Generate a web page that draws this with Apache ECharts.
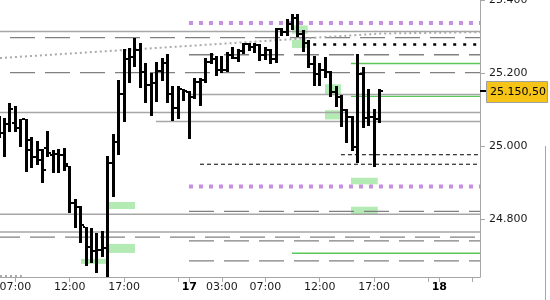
<!DOCTYPE html>
<html><head><meta charset="utf-8">
<script src="https://cdn.jsdelivr.net/npm/echarts@6/dist/echarts.min.js"></script>
<style>html,body{margin:0;padding:0;background:#fff}#c{width:550px;height:300px}</style>
</head><body><div id="c"></div>
<script>
// ---- data (30-minute OHLC bars; slot index = firstSlot + position) ----
const firstSlot = -3;
const opens = [25057,25036,25059,25063,25050,25073,25016,24970,24989,24995,24975,24978,24975,24945,24845,24832,24777,24724,24711,24715,24720,24954,25011,25142,25237,25244,25262,25202,25166,25173,25206,25227,25142,25105,25157,25148,25134,25175,25180,25230,25237,25207,25207,25248,25242,25260,25280,25271,25276,25248,25262,25239,25320,25311,25333,25352,25308,25282,25226,25196,25207,25202,25148,25133,25098,25080,24998,25196,25076,25080,25073];
const highs = [25081,25078,25119,25109,25075,25075,25025,25014,24993,25041,24989,24993,24994,24945,24854,24836,24777,24775,24761,24767,24972,25032,25182,25267,25269,25297,25283,25227,25200,25229,25242,25251,25164,25164,25157,25150,25187,25186,25242,25256,25246,25247,25258,25271,25267,25283,25283,25283,25279,25271,25267,25324,25324,25349,25361,25361,25319,25291,25246,25227,25243,25205,25164,25139,25101,25082,25253,25216,25157,25101,25157];
const lows = [25022,24970,25039,25039,24998,24929,24939,24948,24898,24970,24927,24927,24931,24816,24775,24734,24670,24679,24653,24697,24642,24861,24975,25066,25173,25216,25158,25118,25082,25121,25178,25117,25069,25073,25124,25019,25128,25109,25173,25224,25192,25201,25202,25237,25230,25251,25260,25256,25233,25235,25226,25227,25300,25302,25319,25298,25257,25214,25164,25164,25187,25134,25107,25052,25009,24987,24954,25049,25054,24943,25063];
const closes = [25036,25059,25100,25050,25073,24989,24970,24961,24934,24980,24978,24975,24950,24845,24832,24784,24724,24711,24715,24720,24954,25011,25142,25237,25244,25262,25202,25166,25173,25206,25227,25142,25105,25157,25151,25134,25175,25180,25230,25237,25207,25207,25248,25242,25260,25280,25271,25276,25248,25262,25239,25320,25311,25333,25352,25308,25282,25226,25196,25207,25202,25148,25133,25098,25080,24998,25196,25076,25080,25073,25150.5];
const lastPrice = 25150.5;

// x axis (slot units) and its labels
const xMin = -2.83, xMax = 85.49;
const tickSlots = [0,10,20,32,38,46,56,66,78];
const tickLabels = ['07:00','12:00','17:00','17','03:00','07:00','12:00','17:00','18'];
const dayLabels = ['17','18'];
const allTickSlots = [0,10,20,30,32,38,46,56,66,76,78,84];
// y axis
const yMin = 24641, yMax = 25400;
const yTicks = [24800,25000,25200,25400];

// horizontal levels
const solidLevels = [25314,25141,25092,25067,24813,24764];
const solidFrom   = [xMin,31.94,xMin,25.87,xMin,xMin];
const dashLevels  = [25297,25250,25201,24821,24750,24740,24685];
const dashFrom    = [xMin,31.94,xMin,31.94,xMin,31.94,31.94];
const dashPhase   = [25,0,25,0,5,0,0];
const purpleLevels = [25337,24889];
const purpleFrom   = [31.94,31.94];
const greenLevels  = [25226,25136,24706];
const greenFrom    = [61.75,61.75,50.9];
const blackDotLevels = [25278];
const blackDotFrom   = [54.8];
const blackDashLevels = [24976,24950];
const blackDashFrom   = [59.9,33.97];
const trendSlots  = [xMin,67.1,xMax];
const trendValues = [25241,25308,25312];
const lowDotSlots = [xMin,1.2];
const lowDotValues = [24644,24644];

// green zones
const zoneFrom = [17.22,17.22,12.07,50.9,50.9,56.97,56.97,61.75,61.75];
const zoneTo   = [22.01,22.01,16.67,53.79,53.6,59.91,59.91,66.67,66.67];
const zoneHigh = [24846.5,24731.7,24690.7,25330.4,25291.3,25169.1,25098.0,24912.9,24833.6];
const zoneLow  = [24827.3,24707.0,24677.0,25307.7,25268.3,25141.8,25072.6,24894.9,24813.7];

// ---- build ----
const bars = opens.map((o,i)=>[firstSlot+i,o,highs[i],lows[i],closes[i]]);
const levelSeries = [];
function lvl(from, v, style){
  levelSeries.push({type:'line',data:[[from,v],[xMax,v]],showSymbol:false,silent:true,z:2,
    lineStyle:style,emphasis:{disabled:true}});
}
solidLevels.forEach((v,i)=>lvl(solidFrom[i],v,{color:'#a6a6a6',width:1.5,type:'solid'}));
dashLevels.forEach((v,i)=>lvl(dashFrom[i],v,{color:'#808080',width:1.3,type:[25,10],dashOffset:dashPhase[i]}));
purpleLevels.forEach((v,i)=>lvl(purpleFrom[i],v,{color:'#c68fe2',width:4,type:[4,6]}));
greenLevels.forEach((v,i)=>lvl(greenFrom[i],v,{color:'#5cc85c',width:1.4,type:'solid'}));
blackDotLevels.forEach((v,i)=>lvl(blackDotFrom[i],v,{color:'#000',width:2.5,type:[3,7]}));
blackDashLevels.forEach((v,i)=>lvl(blackDashFrom[i],v,{color:'#000',width:1,type:[4,3]}));
levelSeries.push({type:'line',data:trendSlots.map((s,i)=>[s,trendValues[i]]),showSymbol:false,silent:true,z:2,
  lineStyle:{color:'#ababab',width:2,type:[2,3]}});
levelSeries.push({type:'line',data:lowDotSlots.map((s,i)=>[s,lowDotValues[i]]),showSymbol:false,silent:true,z:2,
  lineStyle:{color:'#ababab',width:2,type:[2,3]}});
const ma = zoneFrom.map((f,i)=>[{coord:[f,zoneHigh[i]]},{coord:[zoneTo[i],zoneLow[i]]}]);

function euro(v){ return String(Math.round(v)).replace(/\B(?=(\d{3})+(?!\d))/g,'.'); }
function euroDec(v){ const p=v.toFixed(2).split('.'); return p[0].replace(/\B(?=(\d{3})+(?!\d))/g,'.')+','+p[1]; }

const chart = echarts.init(document.getElementById('c'), null, {renderer:'canvas'});
const FONT = 'DejaVu Sans';
chart.setOption({
  animation:false,
  grid:{left:0,right:70,top:0,bottom:23,containLabel:false,outerBoundsMode:'none'},
  xAxis:{type:'value',min:xMin,max:xMax,
    axisLine:{show:true,onZero:false,lineStyle:{color:'#a6a6a6',width:1}},
    axisTick:{show:true,customValues:allTickSlots,length:5,lineStyle:{color:'#a6a6a6'}},
    axisLabel:{customValues:tickSlots,margin:5,fontSize:11,fontFamily:FONT,color:'#1a1a1a',hideOverlap:false,
      formatter:function(v){const i=tickSlots.indexOf(v);const t=i>=0?tickLabels[i]:'';return dayLabels.indexOf(t)>=0?'{b|'+t+'}':t;},
      rich:{b:{fontWeight:'bold',fontSize:11,fontFamily:FONT,color:'#000'}}},
    splitLine:{show:false}},
  yAxis:{type:'value',position:'right',min:yMin,max:yMax,
    axisLine:{show:true,onZero:false,lineStyle:{color:'#a6a6a6',width:1}},
    axisTick:{show:true,customValues:yTicks,length:5,lineStyle:{color:'#a6a6a6'}},
    axisLabel:{customValues:yTicks,margin:9,fontSize:11,fontFamily:FONT,color:'#1a1a1a',formatter:euro,verticalAlign:'middle',align:'left'},
    splitLine:{show:false}},
  series:[
    {type:'line',data:[],z:1,silent:true,
      markArea:{silent:true,itemStyle:{color:'#b4ebb4'},data:ma}}
  ].concat(levelSeries).concat([
    {type:'custom',z:5,clip:true,data:bars,encode:{x:0,y:[2,3]},
      renderItem:function(p,api){
        const x=api.value(0);
        const ph=api.coord([x,api.value(2)]),pl=api.coord([x,api.value(3)]);
        const po=api.coord([x,api.value(1)]),pc=api.coord([x,api.value(4)]);
        const bx=Math.round(ph[0]-1.5);
        const top=Math.round(ph[1]),bot=Math.round(pl[1]);
        return {type:'group',children:[
          {type:'rect',shape:{x:bx,y:top,width:3,height:Math.max(1,bot-top)},style:{fill:'#000'}},
          {type:'rect',shape:{x:bx-2,y:Math.round(po[1])-1,width:2,height:2},style:{fill:'#000'}},
          {type:'rect',shape:{x:bx+3,y:Math.round(pc[1])-1,width:2,height:2},style:{fill:'#000'}}
        ]};
      }}
  ])
});
const py = chart.convertToPixel({yAxisIndex:0}, lastPrice);
chart.setOption({graphic:[
  {type:'rect',shape:{x:480,y:Math.round(py)-1,width:7,height:2},style:{fill:'#000'},z:10},
  {type:'rect',shape:{x:486.5,y:Math.round(py)-9.5,width:61,height:21},style:{fill:'#f6c417',stroke:'#a0a0a0',lineWidth:1},z:10},
  {type:'text',x:490,y:Math.round(py)+1.5,style:{text:euroDec(lastPrice),fill:'#000',font:'11px "DejaVu Sans"',verticalAlign:'middle',align:'left'},z:11},
  {type:'line',shape:{x1:545.5,y1:146,x2:545.5,y2:300},style:{stroke:'#a6a6a6',lineWidth:1},z:10}
]});
</script></body></html>
